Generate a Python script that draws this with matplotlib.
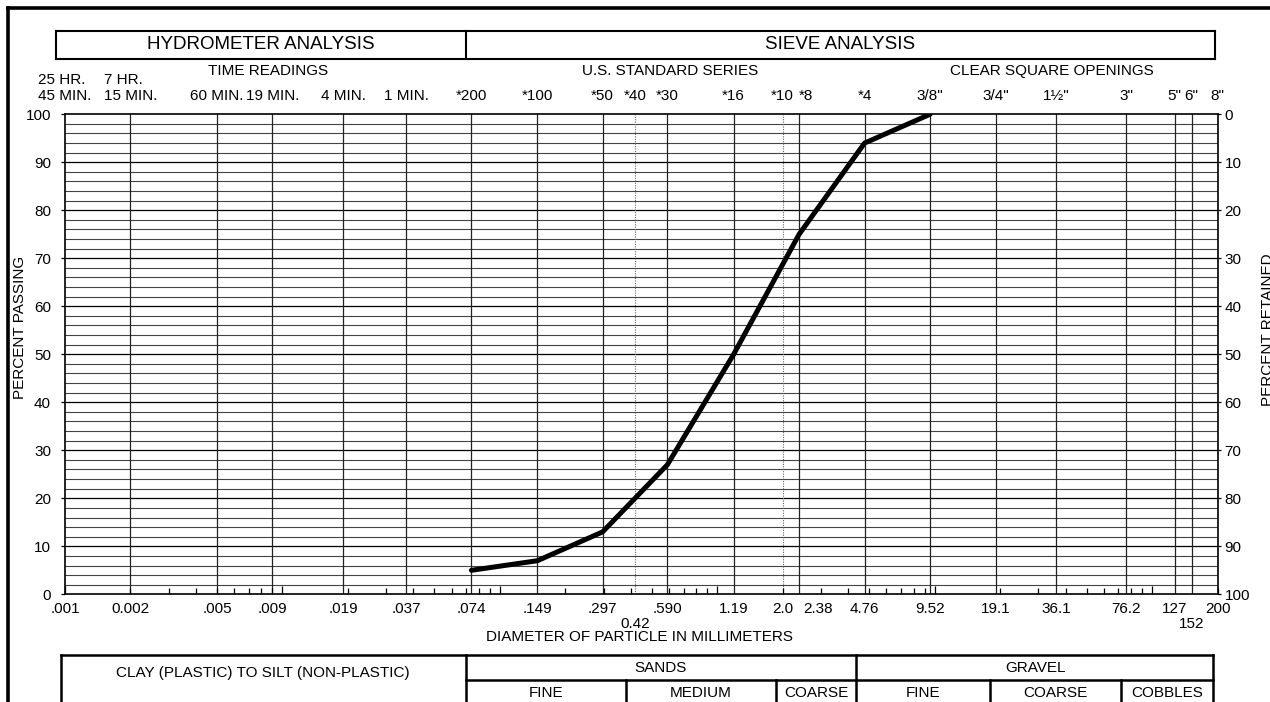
import matplotlib
matplotlib.use('Agg')
import matplotlib.pyplot as plt
from matplotlib import transforms
from matplotlib.lines import Line2D
from matplotlib.ticker import LogLocator, NullFormatter

plt.rcParams['font.family'] = ['Liberation Sans', 'DejaVu Sans']

# ---------------- data ----------------
sizes_mm = [0.074, 0.149, 0.297, 0.590, 1.19, 2.38, 4.76, 9.52]
percent_passing = [5, 7, 13, 27, 50, 75, 94, 100]

grid_sizes = [0.002, 0.005, 0.009, 0.019, 0.037, 0.074, 0.149, 0.297, 0.590,
              1.19, 2.38, 4.76, 9.52, 19.1, 36.1, 76.2, 127, 152]
dotted_sizes = [0.42, 2.0]

xlabel_vals = [0.001, 0.002, 0.005, 0.009, 0.019, 0.037, 0.074, 0.149, 0.297,
               0.590, 1.19, 2.0, 4.76, 9.52, 19.1, 36.1, 76.2, 127, 200]
xlabel_txt = ['.001', '0.002', '.005', '.009', '.019', '.037', '.074', '.149', '.297',
              '.590', '1.19', '2.0', '4.76', '9.52', '19.1', '36.1', '76.2', '127', '200']
shifted_val, shifted_txt = 2.38, '2.38'
low_vals = [0.42, 152]
low_txt = ['0.42', '152']

sieve_vals = [0.074, 0.149, 0.297, 0.42, 0.590, 1.19, 2.0, 4.76,
              9.52, 19.1, 36.1, 76.2, 127, 152, 200]
sieve_txt = ['*200', '*100', '*50', '*40', '*30', '*16', '*10', '*4',
             '3/8"', '3/4"', '1½"', '3"', '5"', '6"', '8"']
sieve_shift_val, sieve_shift_txt = 2.38, '*8'

time_vals = [0.001, 0.002, 0.005, 0.009, 0.019, 0.037]
time_txt = ['25 HR.\n45 MIN.', '7 HR.\n15 MIN.', '60 MIN.', '19 MIN.', '4 MIN.', '1 MIN.']

yticks = list(range(0, 101, 10))

# ---------------- figure ----------------
W, H = 1270, 702
fig = plt.figure(figsize=(W / 100, H / 100), dpi=100)
fig.patch.set_facecolor('white')


def fx(x):
    return x / W


def fy(y):
    return 1 - y / H


def fline(x0, y0, x1, y1, lw=1.5):
    fig.add_artist(Line2D([fx(x0), fx(x1)], [fy(y0), fy(y1)],
                          transform=fig.transFigure, color='black', lw=lw,
                          solid_capstyle='projecting'))


def ftext(x, y, s, size=11, **kw):
    fig.text(fx(x), fy(y), s, ha='center', va='center', fontsize=size, **kw)


ax = fig.add_axes([fx(65), fy(594.3), (1217.5 - 65) / W, 480 / H])
ax.set_xscale('log')
ax.set_xlim(0.001, 200)
ax.set_ylim(0, 100)

for v in range(2, 100, 2):
    if v % 10 == 0:
        ax.axhline(v, color='black', lw=0.9, zorder=1)
    else:
        ax.axhline(v, color='#444444', lw=0.8, zorder=1)
for v in grid_sizes:
    ax.axvline(v, color='#222222', lw=0.9, zorder=1)
for v in dotted_sizes:
    ax.axvline(v, color='#666666', lw=0.8, ls=(0, (1, 1.2)), zorder=1)

ax.plot(sizes_mm, percent_passing, color='black', lw=3.6,
        solid_capstyle='round', solid_joinstyle='round', zorder=3)

for s in ax.spines.values():
    s.set_linewidth(1.2)
    s.set_color('black')

ax.xaxis.set_major_locator(LogLocator(base=10, numticks=20))
ax.xaxis.set_minor_locator(LogLocator(base=10, subs=range(2, 10), numticks=20))
ax.xaxis.set_major_formatter(NullFormatter())
ax.xaxis.set_minor_formatter(NullFormatter())
ax.tick_params(axis='x', which='major', direction='in', length=6, width=0.9)
ax.tick_params(axis='x', which='minor', direction='in', length=4, width=0.9)

ax.set_yticks(yticks)
ax.tick_params(axis='y', which='major', direction='out', length=3, width=0.9,
               labelsize=11, pad=7)

ax2 = ax.twinx()
ax2.set_ylim(100, 0)
ax2.set_yticks(yticks)
ax2.tick_params(axis='y', direction='out', length=2, width=0.9, labelsize=11, pad=3)
for s in ax2.spines.values():
    s.set_visible(False)

bt = transforms.blended_transform_factory(ax.transData, fig.transFigure)

for v, t in zip(xlabel_vals, xlabel_txt):
    ax.text(v, fy(609), t, transform=bt, ha='center', va='center', fontsize=11)
ax.annotate(shifted_txt, xy=(shifted_val, fy(609)), xycoords=bt,
            xytext=(4, 0), textcoords='offset pixels', ha='left', va='center',
            fontsize=11)
for v, t in zip(low_vals, low_txt):
    ax.text(v, fy(624), t, transform=bt, ha='center', va='center', fontsize=11)

for v, t in zip(sieve_vals, sieve_txt):
    ax.text(v, fy(96), t, transform=bt, ha='center', va='center', fontsize=11)
ax.annotate(sieve_shift_txt, xy=(sieve_shift_val, fy(96)), xycoords=bt,
            xytext=(0, 0), textcoords='offset pixels', ha='left', va='center',
            fontsize=11)

for v, t in zip(time_vals, time_txt):
    if '\n' in t:
        ax.text(v, fy(88), t, transform=bt, ha='center', va='center',
                fontsize=11, multialignment='left', linespacing=1.2)
    else:
        ax.text(v, fy(96), t, transform=bt, ha='center', va='center', fontsize=11)

# ---------------- header / footer boxes ----------------
fline(8, 8, 1272, 8, lw=2.6)
fline(8, 8, 8, 704, lw=2.6)

fline(56, 31, 1215, 31)
fline(56, 58.5, 1215, 58.5)
fline(56, 31, 56, 58.5)
fline(1215, 31, 1215, 58.5)
fline(466, 31, 466, 58.5)
ftext(261, 44.5, 'HYDROMETER ANALYSIS', size=13.5)
ftext(840, 44.5, 'SIEVE ANALYSIS', size=13.5)

ftext(268, 71, 'TIME READINGS')
ftext(670, 71, 'U.S. STANDARD SERIES')
ftext(1052, 71, 'CLEAR SQUARE OPENINGS')

ftext(640, 637, 'DIAMETER OF PARTICLE IN MILLIMETERS')
ftext(20, 327, 'PERCENT PASSING', rotation=90)
ftext(1268, 330, 'PERCENT RETAINED', rotation=90)

TOP, MID = 655, 680
fline(61, TOP, 1213, TOP, lw=1.8)
fline(61, TOP, 61, 704, lw=1.8)
fline(1213, TOP, 1213, 704, lw=1.8)
fline(466, TOP, 466, 704, lw=1.8)
fline(856, TOP, 856, 704, lw=1.8)
fline(466, MID, 1213, MID, lw=1.8)
for xv in (626, 776, 990, 1121):
    fline(xv, MID, xv, 704, lw=1.8)

ftext(263, 673, 'CLAY (PLASTIC) TO SILT (NON-PLASTIC)')
ftext(661, 668, 'SANDS')
ftext(1035, 668, 'GRAVEL')
for xc, t in ((546, 'FINE'), (701, 'MEDIUM'), (816, 'COARSE'),
              (923, 'FINE'), (1055, 'COARSE'), (1167, 'COBBLES')):
    ftext(xc, 693, t)

fig.savefig('out.png', dpi=100, facecolor='white')
